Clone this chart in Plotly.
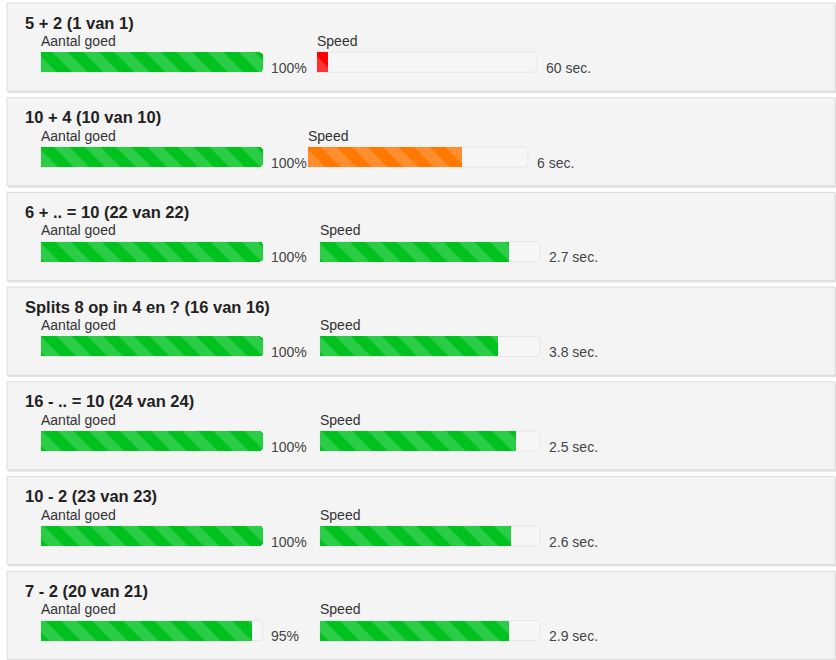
import plotly.graph_objects as go

# ---------------- data ----------------
titles = [
    "5 + 2 (1 van 1)",
    "10 + 4 (10 van 10)",
    "6 + .. = 10 (22 van 22)",
    "Splits 8 op in 4 en ? (16 van 16)",
    "16 - .. = 10 (24 van 24)",
    "10 - 2 (23 van 23)",
    "7 - 2 (20 van 21)",
]
accuracy_pct = [100, 100, 100, 100, 100, 100, 95]
speed_sec = [60, 6, 2.7, 3.8, 2.5, 2.6, 2.9]
speed_fill_pct = [5, 70, 86, 81, 89, 87, 86]
speed_level = ["slow", "medium", "fast", "fast", "fast", "fast", "fast"]
label_accuracy = "Aantal goed"
label_speed = "Speed"

# ---------------- styling / layout constants ----------------
W, H = 836, 660
FONT = "Arial, Liberation Sans, sans-serif"
LEVEL_COLORS = {
    "fast": ("#00c21e", "#2acd45"),
    "medium": ("#ff7800", "#ff8f2e"),
    "slow": ("#ff0000", "#ff3333"),
}
ACC_COLORS = ("#00c21e", "#2acd45")
TRACK_FILL = "#f6f6f6"
TRACK_LINE = "#e6e6e6"

BAR_CENTER0 = 62.3      # px, centre of first row's bars
ROW_STEP = 94.7         # px between rows
BAR_H = 20              # px
ACC_X0, ACC_X1 = 41, 263
SPEED_X0 = [317, 308, 320, 320, 320, 320, 320]
SPEED_W = 220
PAD = 2                 # px padding around bar axes so borders are not clipped
PANEL_X0, PANEL_X1 = 7, 835
PANEL_TOP, PANEL_BOT = 3, 91

n = len(titles)
U = ROW_STEP


def xaxis_cfg(x0, x1):
    span = x1 - x0
    return dict(
        domain=[(x0 - PAD) / W, (x1 + PAD) / W],
        range=[-PAD * 100 / span, 100 + PAD * 100 / span],
        visible=False, fixedrange=True, anchor="y",
    )


fig = go.Figure()

layout_axes = {"xaxis": xaxis_cfg(ACC_X0, ACC_X1)}
for i in range(n):
    layout_axes[f"xaxis{i + 2}"] = xaxis_cfg(SPEED_X0[i], SPEED_X0[i] + SPEED_W)

rows = list(range(n))
bw = BAR_H / U

# accuracy tracks + fills
fig.add_trace(go.Bar(
    x=[100] * n, y=rows, orientation="h", width=bw, xaxis="x", yaxis="y",
    marker=dict(color=TRACK_FILL, line=dict(color=TRACK_LINE, width=1), cornerradius=4),
    hoverinfo="skip", showlegend=False,
))
fig.add_trace(go.Bar(
    x=accuracy_pct, y=rows, orientation="h", width=bw, xaxis="x", yaxis="y",
    marker=dict(
        color=ACC_COLORS[0], cornerradius=4, line=dict(width=0),
        pattern=dict(shape="\\", bgcolor=ACC_COLORS[0], fgcolor=ACC_COLORS[1],
                     size=22, solidity=0.5, fillmode="replace"),
    ),
    hoverinfo="skip", showlegend=False,
))

# speed tracks + fills (one axis per row)
for i in range(n):
    xa = f"x{i + 2}"
    base, stripe = LEVEL_COLORS[speed_level[i]]
    fig.add_trace(go.Bar(
        x=[100], y=[i], orientation="h", width=bw, xaxis=xa, yaxis="y",
        marker=dict(color=TRACK_FILL, line=dict(color=TRACK_LINE, width=1), cornerradius=4),
        hoverinfo="skip", showlegend=False,
    ))
    fig.add_trace(go.Bar(
        x=[speed_fill_pct[i]], y=[i], orientation="h", width=bw, xaxis=xa, yaxis="y",
        marker=dict(
            color=base, cornerradius=3, line=dict(width=0),
            pattern=dict(shape="\\", bgcolor=base, fgcolor=stripe,
                         size=22, solidity=0.5, fillmode="replace"),
        ),
        hoverinfo="skip", showlegend=False,
    ))

# panels (background boxes)
shapes = []
for i in range(n):
    y_top = i + (PANEL_TOP - BAR_CENTER0) / U
    y_bot = i + (PANEL_BOT - BAR_CENTER0) / U
    shapes.append(dict(type="rect", xref="paper", yref="y", layer="below",
                       x0=(PANEL_X0 + 1) / W, x1=(PANEL_X1 + 1) / W,
                       y0=y_top + 1 / U, y1=y_bot + 2 / U,
                       fillcolor="#e2e2e2", line=dict(width=0)))
    shapes.append(dict(type="rect", xref="paper", yref="y", layer="below",
                       x0=PANEL_X0 / W, x1=PANEL_X1 / W, y0=y_top, y1=y_bot,
                       fillcolor="#f4f4f4", line=dict(color="#dddddd", width=1)))

# texts
annotations = []
for i in range(n):
    annotations.append(dict(
        text=f"<b>{titles[i]}</b>", xref="paper", yref="y", x=(25 - 2) / W, y=i,
        xanchor="left", yanchor="middle", yshift=BAR_CENTER0 - 22.5, showarrow=False,
        font=dict(family=FONT, size=16.5, color="#222222"),
    ))
    annotations.append(dict(
        text=label_accuracy, xref="x", yref="y", x=0, y=i, xshift=-2,
        xanchor="left", yanchor="middle", yshift=BAR_CENTER0 - 41, showarrow=False,
        font=dict(family=FONT, size=14, color="#333333"),
    ))
    annotations.append(dict(
        text=f"{accuracy_pct[i]}%", xref="x", yref="y", x=100, y=i, xshift=6,
        xanchor="left", yanchor="middle", yshift=BAR_CENTER0 - 68, showarrow=False,
        font=dict(family=FONT, size=14, color="#444444"),
    ))
    annotations.append(dict(
        text=label_speed, xref=f"x{i + 2}", yref="y", x=0, y=i, xshift=-2,
        xanchor="left", yanchor="middle", yshift=BAR_CENTER0 - 41, showarrow=False,
        font=dict(family=FONT, size=14, color="#333333"),
    ))
    annotations.append(dict(
        text=f"{speed_sec[i]:g} sec.", xref=f"x{i + 2}", yref="y", x=100, y=i, xshift=7,
        xanchor="left", yanchor="middle", yshift=BAR_CENTER0 - 68, showarrow=False,
        font=dict(family=FONT, size=14, color="#444444"),
    ))

fig.update_layout(
    width=W, height=H,
    margin=dict(l=0, r=0, t=0, b=0),
    paper_bgcolor="white", plot_bgcolor="rgba(0,0,0,0)",
    barmode="overlay", bargap=0,
    yaxis=dict(domain=[0, 1], range=[(H - BAR_CENTER0) / U, -BAR_CENTER0 / U],
               visible=False, fixedrange=True),
    shapes=shapes, annotations=annotations,
    showlegend=False,
    **layout_axes,
)

fig.write_html("out.html", config={"displayModeBar": False, "staticPlot": True},
               post_script="document.body.style.margin='0px';")
